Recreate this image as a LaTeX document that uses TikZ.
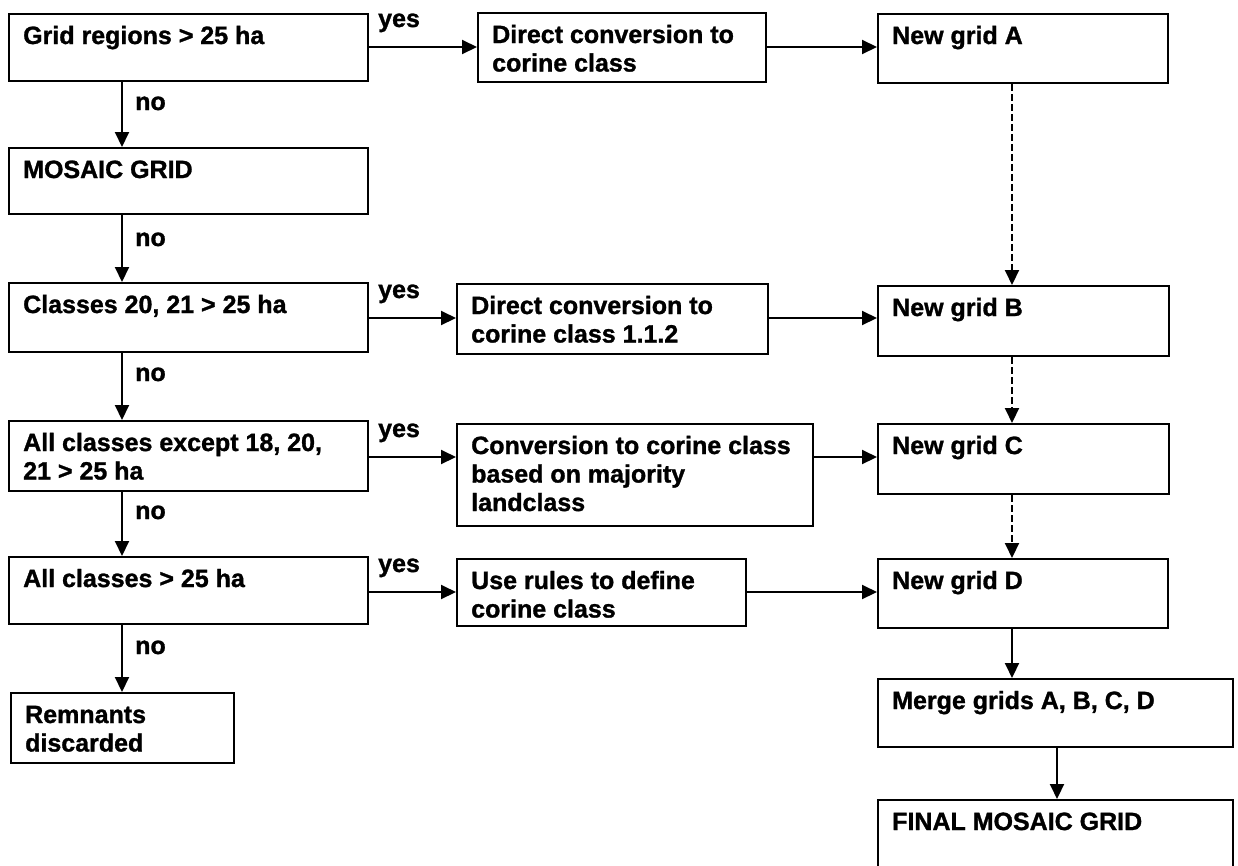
\documentclass[tikz,border=0pt]{standalone}
\usepackage{fontspec}
\setmainfont{Liberation Sans}[BoldFeatures={FakeBold=1.2}]
\usetikzlibrary{arrows.meta}
\tikzset{
  box/.style={draw, line width=2pt, inner sep=0pt, anchor=north west},
  txt/.style={font=\bfseries\fontsize{25}{28.5}\selectfont, inner sep=0pt, anchor=base west},
  arr/.style={line width=2pt, -{Triangle[length=15pt,width=14pt]}},
  darr/.style={arr, dash pattern=on 7pt off 3pt},
}
\newcommand\flowbox[6]{%
  \node[box, minimum width={#4-#2}, minimum height={#5-#3}] (#1) at (#2,#3) {};
  \node[txt] (#1t) at ({#2+15},{#3+31}) {\parbox[t]{420pt}{\raggedright #6}};
}
\begin{document}
\begin{tikzpicture}[x=1pt,y=-1pt]
\useasboundingbox (0,0) rectangle (1238,865);
\clip (0,0) rectangle (1238,865);
\fill[white] (0,0) rectangle (1238,865);
% left column
\flowbox{b1}{8}{13}{367}{80}{Grid regions > 25 ha}
\flowbox{b2}{8}{147}{367}{213}{MOSAIC GRID}
\flowbox{b3}{8}{282}{367}{351}{Classes 20, 21 > 25 ha}
\flowbox{b4}{8}{420}{367}{490}{All classes except 18, 20,\\21 > 25 ha}
\flowbox{b5}{8}{556}{367}{623}{All classes > 25 ha}
\flowbox{b6}{10}{692}{233}{762}{Remnants\\discarded}
% middle column
\flowbox{c1}{477}{12}{765}{81}{Direct conversion to\\corine class}
\flowbox{c2}{456}{283}{767}{353}{Direct conversion to\\corine class 1.1.2}
\flowbox{c3}{456}{423}{812}{525}{Conversion to corine class\\based on majority\\landclass}
\flowbox{c4}{456}{558}{745}{625}{Use rules to define\\corine class}
% right column
\flowbox{g1}{877}{13}{1167}{82}{New grid A}
\flowbox{g2}{877}{285}{1168}{355}{New grid B}
\flowbox{g3}{877}{423}{1168}{493}{New grid C}
\flowbox{g4}{877}{558}{1167}{627}{New grid D}
\flowbox{m}{877}{678}{1232}{746}{Merge grids A, B, C, D}
\flowbox{f}{877}{799}{1232}{872}{FINAL MOSAIC GRID}
% helper coordinates
\coordinate (xl) at (122,0);
\coordinate (xr) at (1012,0);
\coordinate (xm) at (1057,0);
\coordinate (r1) at (0,47);
\coordinate (r2) at (0,318);
\coordinate (r3) at (0,457);
\coordinate (r4) at (0,592);
% no arrows
\draw[arr] (b1.south -| xl) -- (b2.north -| xl);
\draw[arr] (b2.south -| xl) -- (b3.north -| xl);
\draw[arr] (b3.south -| xl) -- (b4.north -| xl);
\draw[arr] (b4.south -| xl) -- (b5.north -| xl);
\draw[arr] (b5.south -| xl) -- (b6.north -| xl);
\node[txt] (n1) at (135,110) {no};
\node[txt] (n2) at (135,246) {no};
\node[txt] (n3) at (135,381) {no};
\node[txt] (n4) at (135,519) {no};
\node[txt] (n5) at (135,654) {no};
% yes arrows
\draw[arr] (b1.east |- r1) -- (c1.west |- r1);
\draw[arr] (b3.east |- r2) -- (c2.west |- r2);
\draw[arr] (b4.east |- r3) -- (c3.west |- r3);
\draw[arr] (b5.east |- r4) -- (c4.west |- r4);
\node[txt] (y1) at (378,27) {yes};
\node[txt] (y2) at (378,298) {yes};
\node[txt] (y3) at (378,437) {yes};
\node[txt] (y4) at (378,572) {yes};
% to new grids
\draw[arr] (c1.east |- r1) -- (g1.west |- r1);
\draw[arr] (c2.east |- r2) -- (g2.west |- r2);
\draw[arr] (c3.east |- r3) -- (g3.west |- r3);
\draw[arr] (c4.east |- r4) -- (g4.west |- r4);
% right column
\draw[darr] (g1.south -| xr) -- (g2.north -| xr);
\draw[darr] (g2.south -| xr) -- (g3.north -| xr);
\draw[darr] (g3.south -| xr) -- (g4.north -| xr);
\draw[arr] (g4.south -| xr) -- (m.north -| xr);
\draw[arr] (m.south -| xm) -- (f.north -| xm);
\end{tikzpicture}
\end{document}
